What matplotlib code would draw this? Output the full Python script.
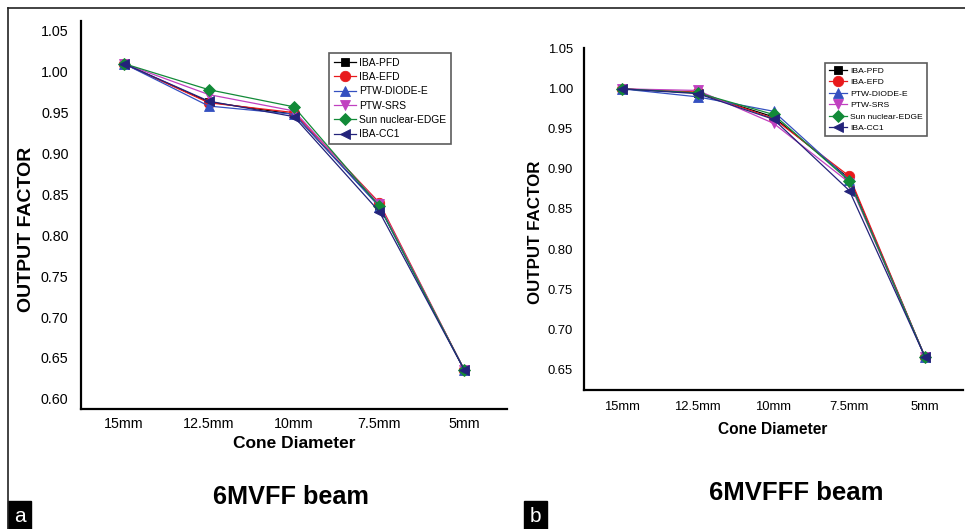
import matplotlib.pyplot as plt
from matplotlib.lines import Line2D

plt.rcParams['font.family'] = ['Liberation Sans', 'DejaVu Sans']

# --- data ---
cones = ['15mm', '12.5mm', '10mm', '7.5mm', '5mm']
detectors = ['IBA-PFD', 'IBA-EFD', 'PTW-DIODE-E', 'PTW-SRS', 'Sun nuclear-EDGE', 'IBA-CC1']

# panel a: 6MV FF
ff_pfd = [1.010, 0.963, 0.948, 0.836, 0.635]
ff_efd = [1.010, 0.962, 0.950, 0.840, 0.635]
ff_diode = [1.010, 0.958, 0.948, 0.835, 0.635]
ff_srs = [1.010, 0.972, 0.952, 0.838, 0.635]
ff_edge = [1.010, 0.978, 0.957, 0.836, 0.635]
ff_cc1 = [1.010, 0.964, 0.945, 0.829, 0.635]

# panel b: 6MV FFF
fff_pfd = [1.000, 0.995, 0.965, 0.888, 0.665]
fff_efd = [1.000, 0.996, 0.963, 0.891, 0.665]
fff_diode = [1.000, 0.990, 0.972, 0.886, 0.665]
fff_srs = [1.000, 0.998, 0.957, 0.883, 0.665]
fff_edge = [1.000, 0.995, 0.968, 0.885, 0.665]
fff_cc1 = [1.000, 0.994, 0.962, 0.873, 0.665]

colors = ['black', '#e8191c', '#3450c0', '#c040c0', '#128a38', '#23237a']
markers = ['s', 'o', '^', 'v', 'D', '<']
msizes = [6, 7.5, 7.5, 7.5, 6, 7.5]

W, H = 965, 529
fig = plt.figure(figsize=(W / 100, H / 100), dpi=100)


def px_axes(x0, y0, x1, y1):
    # pixel box (top-left origin) -> figure fraction axes
    return fig.add_axes([x0 / W, 1 - y1 / H, (x1 - x0) / W, (y1 - y0) / H])


def draw_panel(ax, series, ylim, yticks, fs):
    x = list(range(len(cones)))
    for vals, c, m, ms, name in zip(series, colors, markers, msizes, detectors):
        ax.plot(x, vals, color=c, marker=m, markersize=ms, lw=0.9,
                markeredgewidth=0.6, label=name)
    ax.set_xlim(-0.5, 4.5)
    ax.set_ylim(*ylim)
    ax.set_xticks(x)
    ax.set_xticklabels(cones, fontsize=fs)
    ax.set_yticks(yticks)
    ax.set_yticklabels([f'{v:.2f}' for v in yticks], fontsize=fs)
    ax.tick_params(length=0)
    for s in ['top', 'right']:
        ax.spines[s].set_visible(False)
    for s in ['left', 'bottom']:
        ax.spines[s].set_linewidth(1.6)


def add_legend(ax, x0, y0, fs, spacing):
    leg = ax.legend(loc='upper left', bbox_to_anchor=(x0 / W, 1 - y0 / H),
                    bbox_transform=fig.transFigure, fontsize=fs, frameon=True,
                    fancybox=False, edgecolor='#333333', handlelength=2.2,
                    labelspacing=spacing, borderpad=0.45, handletextpad=0.3,
                    borderaxespad=0)
    leg.get_frame().set_linewidth(1.2)
    return leg


# panel a
ax1 = px_axes(81, 21, 507, 409)
draw_panel(ax1, [ff_pfd, ff_efd, ff_diode, ff_srs, ff_edge, ff_cc1],
           (0.5875, 1.062), [0.60, 0.65, 0.70, 0.75, 0.80, 0.85, 0.90, 0.95, 1.00, 1.05], 10.3)
ax1.tick_params(axis='y', pad=9)
ax1.tick_params(axis='x', pad=6)
add_legend(ax1, 329, 53, 7.4, 0.42)

# panel b
ax2 = px_axes(584, 48, 963, 390)
draw_panel(ax2, [fff_pfd, fff_efd, fff_diode, fff_srs, fff_edge, fff_cc1],
           (0.624, 1.051), [0.65, 0.70, 0.75, 0.80, 0.85, 0.90, 0.95, 1.00, 1.05], 9.4)
ax2.tick_params(axis='y', pad=8)
ax2.tick_params(axis='x', pad=8)
add_legend(ax2, 825, 63, 6.1, 0.42)

# axis labels and titles
fig.text(27 / W, 1 - 229 / H, 'OUTPUT FACTOR', rotation=90, fontsize=14,
         fontweight='bold', ha='center', va='center')
fig.text(294 / W, 1 - 444 / H, 'Cone Diameter', fontsize=12.5,
         fontweight='bold', ha='center', va='center')
fig.text(291 / W, 1 - 497 / H, '6MVFF beam', fontsize=18.2,
         fontweight='bold', ha='center', va='center')

fig.text(535 / W, 1 - 232 / H, 'OUTPUT FACTOR', rotation=90, fontsize=12.2,
         fontweight='bold', ha='center', va='center')
fig.text(773 / W, 1 - 430 / H, 'Cone Diameter', fontsize=11.2,
         fontweight='bold', ha='center', va='center')
fig.text(796 / W, 1 - 493 / H, '6MVFFF beam', fontsize=18.5,
         fontweight='bold', ha='center', va='center')

# outer frame lines
fig.add_artist(Line2D([8 / W, 1], [1 - 8 / H, 1 - 8 / H], color='#222222', lw=1.2))
fig.add_artist(Line2D([8 / W, 8 / W], [1 - 8 / H, 0], color='#222222', lw=1.2))

# panel letters
for lx, letter in [(8, 'a'), (524, 'b')]:
    fig.patches.append(plt.Rectangle((lx / W, 0), 23 / W, 28 / H, color='black',
                                     transform=fig.transFigure, figure=fig))
    fig.text((lx + 11.5) / W, 13 / H, letter, color='white', fontsize=15,
             ha='center', va='center')

fig.savefig('out.png', dpi=100)
